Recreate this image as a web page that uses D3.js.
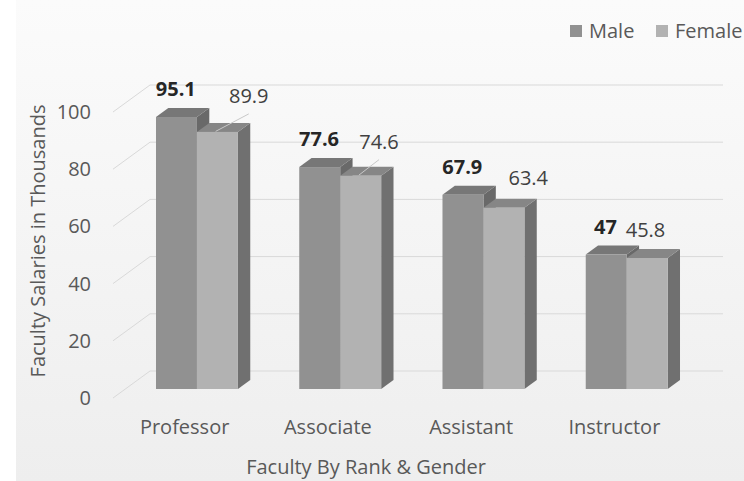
<!DOCTYPE html>
<html>
<head>
<meta charset="utf-8">
<script src="https://cdn.jsdelivr.net/npm/d3@7"></script>
<style>
  body { margin: 0; background: #fff; }
  svg { display: block; font-family: 'Open Sans', sans-serif; }
</style>
</head>
<body>
<div id="chart"></div>
<script>
// chart values
const categories = ['Professor', 'Associate', 'Assistant', 'Instructor']
const series = ['Male', 'Female']
const maleValues = [95.1, 77.6, 67.9, 47]
const femaleValues = [89.9, 74.6, 63.4, 45.8]
const yTicks = [0, 20, 40, 60, 80, 100]

// hand-placed female label nudges (like the dragged labels in the original)
const femaleLabelShift = [[19, -27], [6, -25], [12, -21], [-14, -19]]
const femaleLeader = [true, true, false, false]

const width = 744
const height = 481
const depth = { dx: 37, dy: -27 } // full floor depth, oblique projection
const barZ = [1 / 3, 2 / 3]

const colors = {
  Male: { front: '#919191', top: '#777777', side: '#696969' },
  Female: { front: '#b2b2b2', top: '#868686', side: '#707070' }
}

const svg = d3.select('#chart').append('svg')
  .attr('width', width)
  .attr('height', height)

const defs = svg.append('defs')
const bg = defs.append('linearGradient')
  .attr('id', 'bg')
  .attr('x1', 0).attr('y1', 0).attr('x2', 0).attr('y2', 1)
bg.append('stop').attr('offset', '0%').attr('stop-color', '#fbfbfb')
bg.append('stop').attr('offset', '100%').attr('stop-color', '#eeeeee')

svg.append('rect')
  .attr('x', 16).attr('y', 0)
  .attr('width', width - 16).attr('height', height)
  .attr('fill', 'url(#bg)')

const xScale = d3.scaleBand()
  .domain(categories)
  .range([113, 686])
  .paddingInner(0.428)
  .paddingOuter(0.214)

const xInner = d3.scaleBand()
  .domain(series)
  .range([0, xScale.bandwidth()])

const yScale = d3.scaleLinear()
  .domain([0, 100])
  .range([398, 112])

const x0 = xScale.range()[0]
const x1 = xScale.range()[1]

// walls: diagonal on the left, horizontal on the back
const grid = svg.append('g').attr('stroke', '#d9d9d9').attr('stroke-width', 1).attr('fill', 'none')
grid.selectAll('path')
  .data(yTicks)
  .join('path')
  .attr('d', t => {
    const y = yScale(t)
    return `M${x0},${y}L${x0 + depth.dx},${y + depth.dy}L${x1 + depth.dx},${y + depth.dy}`
  })

// y tick labels
svg.append('g')
  .selectAll('text')
  .data(yTicks)
  .join('text')
  .attr('x', 91)
  .attr('y', d => yScale(d))
  .attr('dy', '0.35em')
  .attr('text-anchor', 'end')
  .attr('font-size', 20)
  .attr('fill', '#595959')
  .text(d => d)

// bars
const rows = []
categories.forEach((c, i) => {
  rows.push({ cat: c, s: 'Male', v: maleValues[i], i })
  rows.push({ cat: c, s: 'Female', v: femaleValues[i], i })
})

function barGeom (d) {
  const w = xInner.bandwidth()
  const fx0 = xScale(d.cat) + xInner(d.s) + barZ[0] * depth.dx
  const fx1 = fx0 + w
  const fyTop = yScale(d.v) + barZ[0] * depth.dy
  const fyBot = yScale(0) + barZ[0] * depth.dy
  const ddx = (barZ[1] - barZ[0]) * depth.dx
  const ddy = (barZ[1] - barZ[0]) * depth.dy
  return { fx0, fx1, fyTop, fyBot, ddx, ddy, w }
}

const bars = svg.append('g')
  .selectAll('g')
  .data(rows)
  .join('g')

bars.append('path')
  .attr('fill', d => colors[d.s].side)
  .attr('d', d => {
    const g = barGeom(d)
    return `M${g.fx1},${g.fyTop}L${g.fx1 + g.ddx},${g.fyTop + g.ddy}L${g.fx1 + g.ddx},${g.fyBot + g.ddy}L${g.fx1},${g.fyBot}Z`
  })
bars.append('path')
  .attr('fill', d => colors[d.s].top)
  .attr('d', d => {
    const g = barGeom(d)
    return `M${g.fx0},${g.fyTop}L${g.fx1},${g.fyTop}L${g.fx1 + g.ddx},${g.fyTop + g.ddy}L${g.fx0 + g.ddx},${g.fyTop + g.ddy}Z`
  })
bars.append('rect')
  .attr('fill', d => colors[d.s].front)
  .attr('x', d => barGeom(d).fx0)
  .attr('y', d => barGeom(d).fyTop)
  .attr('width', d => barGeom(d).w)
  .attr('height', d => barGeom(d).fyBot - barGeom(d).fyTop)

// data labels
function labelPos (d) {
  const g = barGeom(d)
  const cx = (g.fx0 + g.fx1) / 2 + g.ddx
  const cy = g.fyTop + g.ddy
  if (d.s === 'Male') return [cx - 13, cy - 19]
  const sh = femaleLabelShift[d.i]
  return [cx + sh[0], cy + sh[1]]
}

svg.append('g')
  .selectAll('line')
  .data(rows.filter(d => d.s === 'Female' && femaleLeader[d.i]))
  .join('line')
  .attr('stroke', '#c8c8c8')
  .attr('stroke-width', 1)
  .attr('x1', d => { const g = barGeom(d); return (g.fx0 + g.fx1) / 2 + g.ddx / 2 - 8 })
  .attr('y1', d => { const g = barGeom(d); return g.fyTop + g.ddy / 2 + 4 })
  .attr('x2', d => labelPos(d)[0])
  .attr('y2', d => labelPos(d)[1] + 18)

svg.append('g')
  .selectAll('text')
  .data(rows)
  .join('text')
  .attr('x', d => labelPos(d)[0])
  .attr('y', d => labelPos(d)[1])
  .attr('dy', '0.35em')
  .attr('text-anchor', 'middle')
  .attr('font-size', 20)
  .attr('font-weight', d => d.s === 'Male' ? 700 : 400)
  .attr('fill', d => d.s === 'Male' ? '#262626' : '#404040')
  .text(d => d.v)

// category labels
svg.append('g')
  .selectAll('text')
  .data(categories)
  .join('text')
  .attr('x', d => xScale(d) + xScale.bandwidth() / 2)
  .attr('y', 427)
  .attr('dy', '0.35em')
  .attr('text-anchor', 'middle')
  .attr('font-size', 20)
  .attr('fill', '#595959')
  .text(d => d)

// axis titles
svg.append('text')
  .attr('x', 366)
  .attr('y', 467)
  .attr('dy', '0.35em')
  .attr('text-anchor', 'middle')
  .attr('font-size', 20)
  .attr('fill', '#595959')
  .text('Faculty By Rank & Gender')

svg.append('text')
  .attr('transform', 'translate(38,241) rotate(-90)')
  .attr('dy', '0.35em')
  .attr('text-anchor', 'middle')
  .attr('font-size', 20)
  .attr('fill', '#595959')
  .text('Faculty Salaries in Thousands')

// legend
const legendX = [570, 656]
const legend = svg.append('g')
  .selectAll('g')
  .data(series)
  .join('g')
  .attr('transform', (d, i) => `translate(${legendX[i]},25)`)
legend.append('rect')
  .attr('width', 12).attr('height', 12)
  .attr('fill', d => colors[d].front)
legend.append('text')
  .attr('x', 19)
  .attr('y', 6)
  .attr('dy', '0.35em')
  .attr('font-size', 20)
  .attr('fill', '#595959')
  .text(d => d)
</script>
</body>
</html>
